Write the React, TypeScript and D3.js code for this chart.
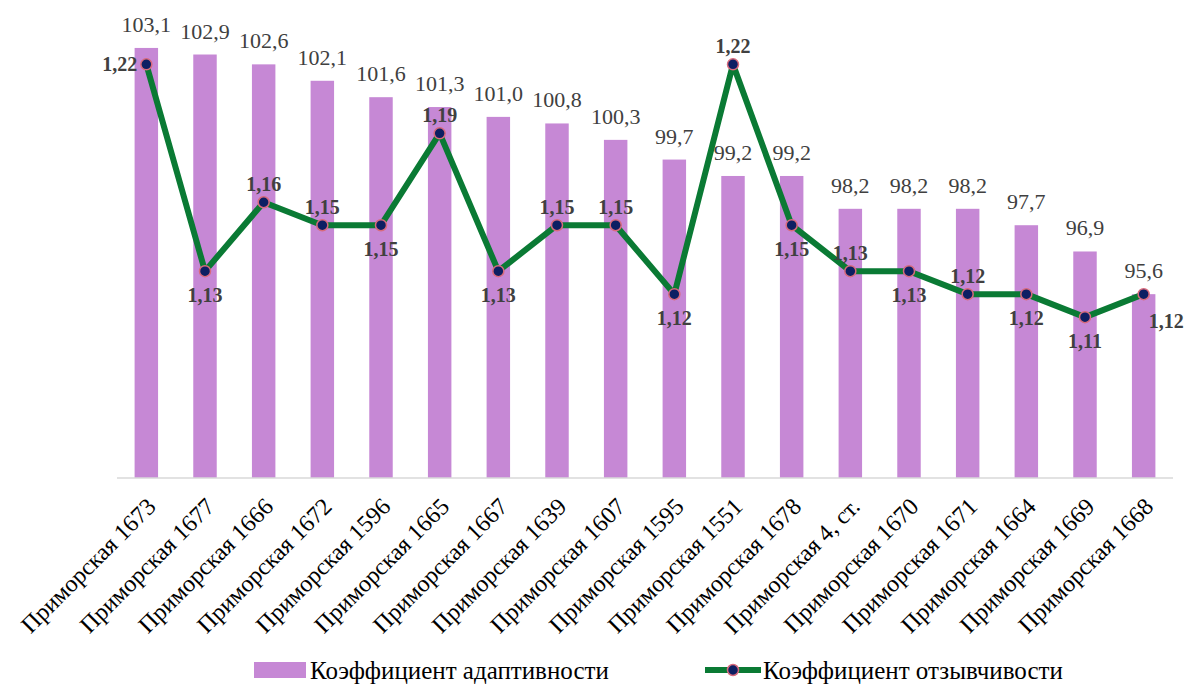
import * as d3 from 'd3';

const categories = [
  'Приморская 1673', 'Приморская 1677', 'Приморская 1666', 'Приморская 1672',
  'Приморская 1596', 'Приморская 1665', 'Приморская 1667', 'Приморская 1639',
  'Приморская 1607', 'Приморская 1595', 'Приморская 1551', 'Приморская 1678',
  'Приморская 4, ст.', 'Приморская 1670', 'Приморская 1671', 'Приморская 1664',
  'Приморская 1669', 'Приморская 1668',
];
const adaptivity = [103.1, 102.9, 102.6, 102.1, 101.6, 101.3, 101.0, 100.8, 100.3, 99.7, 99.2, 99.2, 98.2, 98.2, 98.2, 97.7, 96.9, 95.6];
const responsiveness = [1.22, 1.13, 1.16, 1.15, 1.15, 1.19, 1.13, 1.15, 1.15, 1.12, 1.22, 1.15, 1.13, 1.13, 1.12, 1.12, 1.11, 1.12];
// where each line label sits relative to its marker
const labelPos = ['left', 'below', 'above', 'above', 'below', 'above', 'below', 'above', 'above', 'below', 'above', 'below', 'above', 'below', 'above', 'below', 'below', 'right'];

const legendNames = ['Коэффициент адаптивности', 'Коэффициент отзывчивости'];

const W = 1189;
const H = 693;
const BAR = '#c688d5';
const LINE = '#0a7a34';
const DOT = '#0d1f63';
const DOT_RIM = '#d86a7c';
const TEXT = '#404040';
const FONT = "'Liberation Serif', monospace";

const fmt = (v: number, d: number) => v.toFixed(d).replace('.', ',');

const left = 117, right = 1173, top = 18.4, bottom = 478;

const x = d3.scaleBand<string>().domain(categories).range([left, right]).paddingInner(0.6).paddingOuter(0.3);
const y = d3.scaleLinear().domain([90, 104]).range([bottom, top]);
const y2 = d3.scaleLinear().domain([1.04, 1.24]).range([bottom, top]);
const cx = (i: number) => (x(categories[i]) as number) + x.bandwidth() / 2;

const linePath = d3.line<number>().x((_d, i) => cx(i)).y(d => y2(d))(responsiveness) ?? '';

function lineLabel(v: number, i: number) {
  const p = labelPos[i];
  let lx = cx(i), ly = y2(v) - 11;
  let anchor: 'start' | 'middle' | 'end' = 'middle';
  if (p === 'below') ly = y2(v) + 31;
  if (p === 'left') { lx = cx(i) - 9; ly = y2(v) + 7; anchor = 'end'; }
  if (p === 'right') { lx = cx(i) + 5; ly = y2(v) + 34; anchor = 'start'; }
  return (
    <text key={'l' + i} x={lx} y={ly} textAnchor={anchor} fill={TEXT}
      style={{ fontFamily: FONT, fontSize: 20, fontWeight: 'bold' }}>
      {fmt(v, 2)}
    </text>
  );
}

export default function App() {
  return (
    <svg width={W} height={H} style={{ position: 'absolute', left: 0, top: 0 }}>
      {/* bars */}
      {adaptivity.map((v, i) => (
        <rect key={'b' + i} x={x(categories[i])} y={y(v)} width={x.bandwidth()} height={bottom - y(v)} fill={BAR} />
      ))}

      {/* x axis */}
      <line x1={left} x2={right} y1={bottom} y2={bottom} stroke="#d9d9d9" strokeWidth={1.5} />
      {categories.map((c, i) => (
        <text key={'t' + i} textAnchor="end" fill="#000"
          transform={`translate(${cx(i) + 11},${bottom + 30}) rotate(-45)`}
          style={{ fontFamily: FONT, fontSize: 24 }}>
          {c}
        </text>
      ))}

      {/* bar value labels */}
      {adaptivity.map((v, i) => (
        <text key={'v' + i} x={cx(i)} y={y(v) - 16} textAnchor="middle" fill={TEXT}
          style={{ fontFamily: FONT, fontSize: 22 }}>
          {fmt(v, 1)}
        </text>
      ))}

      {/* line */}
      <path d={linePath} fill="none" stroke={LINE} strokeWidth={6} strokeLinejoin="round" />
      {responsiveness.map((v, i) => (
        <circle key={'c' + i} cx={cx(i)} cy={y2(v)} r={5.5} fill={DOT} stroke={DOT_RIM} strokeWidth={1.5} />
      ))}
      {responsiveness.map(lineLabel)}

      {/* legend */}
      <rect x={254} y={662} width={52} height={16} fill={BAR} />
      <text x={310} y={679} fill="#000" style={{ fontFamily: FONT, fontSize: 25 }}>{legendNames[0]}</text>
      <line x1={705} x2={761} y1={670} y2={670} stroke={LINE} strokeWidth={6} />
      <circle cx={733} cy={670} r={5.5} fill={DOT} stroke={DOT_RIM} strokeWidth={1.5} />
      <text x={763} y={679} fill="#000" style={{ fontFamily: FONT, fontSize: 25 }}>{legendNames[1]}</text>
    </svg>
  );
}
